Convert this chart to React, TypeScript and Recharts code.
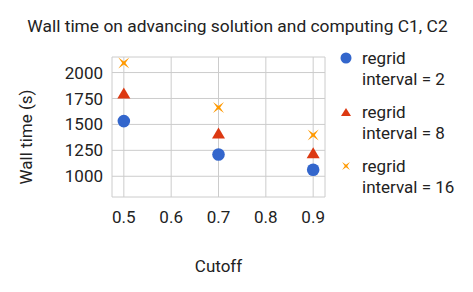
import React from 'react';
import { ScatterChart, Scatter, XAxis, YAxis, CartesianGrid, Legend, Label } from 'recharts';

const cutoffs = [0.5, 0.7, 0.9];
const interval2 = [1532, 1210, 1063];
const interval8 = [1802, 1417, 1227];
const interval16 = [2092, 1663, 1398];
const xTicks = [0.5, 0.6, 0.7, 0.8, 0.9];
const yTicks = [1000, 1250, 1500, 1750, 2000];

const toPoints = (vals: number[]) => cutoffs.map((c, i) => ({ cutoff: c, time: vals[i] }));

const series = [
  { name: 'regrid interval = 2', color: '#3366cc', data: toPoints(interval2), kind: 'circle' },
  { name: 'regrid interval = 8', color: '#dc3912', data: toPoints(interval8), kind: 'triangle' },
  { name: 'regrid interval = 16', color: '#ff9900', data: toPoints(interval16), kind: 'star' },
];

const font = 'Roboto, Arial, sans-serif';
const textColor = '#222';

const starPath = (cx: number, cy: number, outer: number, inner: number) => {
  const pts: string[] = [];
  for (let i = 0; i < 8; i++) {
    const a = (Math.PI / 4) * i + Math.PI / 4;
    const r = i % 2 === 0 ? outer : inner;
    pts.push(`${cx + r * Math.cos(a)},${cy + r * Math.sin(a)}`);
  }
  return pts.join(' ');
};

const Marker = ({ kind, cx, cy, color, small }: any) => {
  if (kind === 'circle') return <circle cx={cx} cy={cy} r={small ? 5.5 : 6.3} fill={color} />;
  if (kind === 'triangle') {
    const w = small ? 5 : 6.5;
    const h = small ? 4 : 5.5;
    return <polygon points={`${cx},${cy - h} ${cx + w},${cy + h} ${cx - w},${cy + h}`} fill={color} />;
  }
  return <polygon points={starPath(cx, cy, small ? 5.5 : 7.8, small ? 1.2 : 1.6)} fill={color} />;
};

const renderLegend = () => (
  <div style={{ fontFamily: font, fontSize: 17, color: textColor }}>
    {series.map((s) => (
      <div key={s.name} style={{ display: 'flex', alignItems: 'flex-start', marginBottom: 13 }}>
        <svg width={12} height={20} style={{ marginRight: 10, flex: 'none' }}>
          <Marker kind={s.kind} cx={6} cy={10} color={s.color} small />
        </svg>
        <div style={{ lineHeight: '20.5px' }}>
          <div>regrid</div>
          <div>{s.name.replace('regrid ', '')}</div>
        </div>
      </div>
    ))}
  </div>
);

const App: React.FC = () => {
  return (
    <div style={{ position: 'absolute', left: 0, top: 0, width: 473, height: 292, background: '#fff', fontFamily: font }}>
      <div
        style={{
          position: 'absolute',
          top: 18,
          left: 0,
          width: 475,
          textAlign: 'center',
          fontSize: 17.4,
          lineHeight: '17px',
          color: textColor,
        }}
      >
        Wall time on advancing solution and computing C1, C2
      </div>
      <ScatterChart width={473} height={292} margin={{ top: 57, right: 148, bottom: 0, left: 0 }}>
        <CartesianGrid stroke="#cccccc" />
        <XAxis
          type="number"
          dataKey="cutoff"
          domain={[0.475, 0.925]}
          ticks={xTicks}
          allowDataOverflow
          height={95}
          axisLine={false}
          tickLine={false}
          tickSize={0}
          tickMargin={14}
          tickFormatter={(v: number) => v.toFixed(1)}
          tick={{ fill: textColor, fontSize: 17, fontFamily: font }}
        >
          <Label value="Cutoff" position="insideBottom" offset={20} fill={textColor} fontSize={17} fontFamily={font} />
        </XAxis>
        <YAxis
          type="number"
          dataKey="time"
          domain={[800, 2150]}
          ticks={yTicks}
          allowDataOverflow
          width={112}
          axisLine={false}
          tickLine={false}
          tickSize={0}
          tickMargin={9}
          tick={{ fill: textColor, fontSize: 17, fontFamily: font }}
        >
          <Label
            content={() => (
              <text
                x={26}
                y={137}
                transform="rotate(-90 26 137)"
                textAnchor="middle"
                dominantBaseline="central"
                fill={textColor}
                fontSize={17}
                fontFamily={font}
              >
                Wall time (s)
              </text>
            )}
          />
        </YAxis>
        {series.map((s) => (
          <Scatter
            key={s.name}
            name={s.name}
            data={s.data}
            fill={s.color}
            isAnimationActive={false}
            shape={(p: any) => <Marker kind={s.kind} cx={p.cx} cy={p.cy} color={s.color} />}
          />
        ))}
        <Legend
          layout="vertical"
          align="center"
          verticalAlign="middle"
          content={renderLegend}
          wrapperStyle={{ left: 340, top: 48, width: 133 }}
        />
      </ScatterChart>
    </div>
  );
};

export default App;
